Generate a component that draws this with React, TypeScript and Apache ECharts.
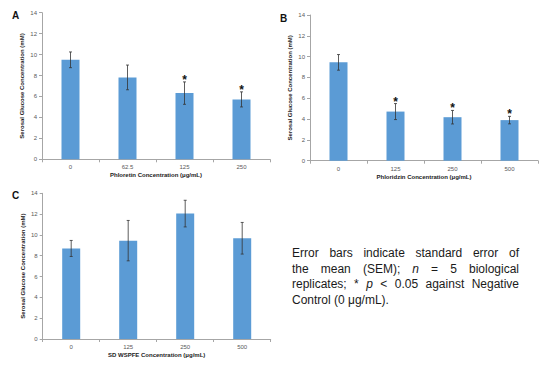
import React, { useEffect, useRef } from "react";
import * as echarts from "echarts";

const catsA = ["0", "62.5", "125", "250"];
const meanA = [9.5, 7.82, 6.32, 5.72];
const semA = [0.75, 1.18, 1.07, 0.72];
const sigA = [0, 0, 1, 1];

const catsB = ["0", "125", "250", "500"];
const meanB = [9.45, 4.72, 4.18, 3.9];
const semB = [0.75, 0.77, 0.65, 0.36];
const sigB = [0, 1, 1, 1];

const catsC = ["0", "125", "250", "500"];
const meanC = [8.7, 9.45, 12.05, 9.68];
const semC = [0.77, 1.94, 1.28, 1.52];
const sigC = [0, 0, 0, 0];

const yTicks = [0, 2, 4, 6, 8, 10, 12, 14];

const xTitles = [
  "Phloretin Concentration (μg/mL)",
  "Phloridzin Concentration (μg/mL)",
  "SD WSPFE Concentration (μg/mL)",
];
const yTitle = "Serosal Glucose Concentration (mM)";
const panelLetters = ["A", "B", "C"];

const noteLines: string[][] = [
  ["Error", "bars", "indicate", "standard", "error", "of"],
  ["the", "mean", "(SEM);", "_n", "=", "5", "biological"],
  ["replicates;", "*", "_p", "<", "0.05", "against", "Negative"],
  ["Control", "(0", "μg/mL)."],
];

const BAR = "#5b9bd5";
const AXIS = "#a6a6a6";
const LABEL = "#595959";

export default function App() {
  const ref = useRef<HTMLDivElement>(null);
  useEffect(() => {
    if (!ref.current) return;
    const chart = echarts.init(ref.current, null, { renderer: "svg" });

    const grids = [
      { left: 42, top: 12.7, width: 228, height: 146.6 },
      { left: 310, top: 15, width: 228, height: 145.7 },
      { left: 42.7, top: 193.3, width: 228, height: 145.7 },
    ];
    const sets = [
      { cats: catsA, mean: meanA, sem: semA, sig: sigA },
      { cats: catsB, mean: meanB, sem: semB, sig: sigB },
      { cats: catsC, mean: meanC, sem: semC, sig: sigC },
    ];

    const xAxis = sets.map((s, k) => ({
      type: "category",
      gridIndex: k,
      data: s.cats,
      name: xTitles[k],
      nameLocation: "middle",
      nameGap: 13,
      nameTextStyle: { fontSize: 6, fontWeight: "bold", color: "#222", fontFamily: "Liberation Sans" },
      axisLine: { lineStyle: { color: AXIS, width: 1 } },
      axisTick: { show: true, length: 3, lineStyle: { color: AXIS } },
      axisLabel: { fontSize: 6, color: LABEL, margin: 5, fontFamily: "Liberation Sans" },
    }));
    const yAxis = sets.map((s, k) => ({
      type: "value",
      gridIndex: k,
      min: 0,
      max: yTicks[yTicks.length - 1],
      interval: 2,
      name: yTitle,
      nameLocation: "middle",
      nameGap: 17,
      nameTextStyle: { fontSize: 6, fontWeight: "bold", color: "#222", fontFamily: "Liberation Sans" },
      axisLine: { show: true, lineStyle: { color: AXIS, width: 1 } },
      axisTick: { show: true, length: 3, lineStyle: { color: AXIS } },
      splitLine: { show: false },
      axisLabel: { fontSize: 6, color: LABEL, margin: 5, fontFamily: "Liberation Sans" },
    }));

    const series: any[] = [];
    sets.forEach((s, k) => {
      series.push({
        type: "bar",
        xAxisIndex: k,
        yAxisIndex: k,
        data: s.mean,
        barWidth: 18,
        itemStyle: { color: BAR },
      });
      series.push({
        type: "custom",
        xAxisIndex: k,
        yAxisIndex: k,
        data: s.cats.map((_, i) => [i, s.mean[i], s.sem[i], s.sig[i]]),
        encode: { x: 0, y: 1 },
        renderItem: (params: any, api: any) => {
          const i = api.value(0);
          const m = api.value(1);
          const e = api.value(2);
          const top = api.coord([i, m + e]);
          const bot = api.coord([i, m - e]);
          const cap = 1.5;
          const st = { stroke: "#333", lineWidth: 0.8 };
          const children: any[] = [
            { type: "line", shape: { x1: top[0], y1: top[1], x2: bot[0], y2: bot[1] }, style: st },
            { type: "line", shape: { x1: top[0] - cap, y1: top[1], x2: top[0] + cap, y2: top[1] }, style: st },
            { type: "line", shape: { x1: bot[0] - cap, y1: bot[1], x2: bot[0] + cap, y2: bot[1] }, style: st },
          ];
          if (api.value(3)) {
            children.push({
              type: "text",
              x: top[0],
              y: top[1] + 4,
              style: {
                text: "*",
                fontSize: 12,
                fontWeight: "bold",
                fontFamily: "Liberation Sans",
                align: "center",
                verticalAlign: "bottom",
                fill: "#111",
              },
            });
          }
          return { type: "group", children };
        },
        z: 5,
      });
    });

    // panel letters
    const graphic: any[] = [
      { type: "text", x: 12, y: 10, style: { text: panelLetters[0], fontSize: 10, fontWeight: "bold", fontFamily: "Liberation Sans", fill: "#111" } },
      { type: "text", x: 280, y: 13, style: { text: panelLetters[1], fontSize: 10, fontWeight: "bold", fontFamily: "Liberation Sans", fill: "#111" } },
      { type: "text", x: 12, y: 190, style: { text: panelLetters[2], fontSize: 10, fontWeight: "bold", fontFamily: "Liberation Sans", fill: "#111" } },
    ];

    // justified note text
    const canvas = document.createElement("canvas");
    const ctx = canvas.getContext("2d")!;
    const fs = 12;
    const measure = (w: string, italic: boolean) => {
      ctx.font = `${italic ? "italic " : ""}${fs}px 'Liberation Sans'`;
      return ctx.measureText(w).width;
    };
    const x0 = 292;
    const x1 = 519;
    const lineYs = [253.3, 268.5, 284.3, 300];
    noteLines.forEach((words, li) => {
      const parts = words.map((w) => {
        const it = w.startsWith("_");
        const t = it ? w.slice(1) : w;
        return { t, it, w: measure(t, it) };
      });
      const total = parts.reduce((a, p) => a + p.w, 0);
      const last = li === noteLines.length - 1;
      const gap = last ? measure(" ", false) : (x1 - x0 - total) / (parts.length - 1);
      let x = x0;
      parts.forEach((p) => {
        graphic.push({
          type: "text",
          x,
          y: lineYs[li],
          style: {
            text: p.t,
            fontSize: fs,
            fontStyle: p.it ? "italic" : "normal",
            fontFamily: "Liberation Sans",
            fill: "#1a1a1a",
            verticalAlign: "middle",
          },
        });
        x += p.w + gap;
      });
    });

    chart.setOption({
      animation: false,
      backgroundColor: "#fff",
      grid: grids,
      xAxis,
      yAxis,
      series,
      graphic,
    });
    return () => chart.dispose();
  }, []);
  return (
    <div
      ref={ref}
      style={{ position: "absolute", left: 0, top: 0, width: 539, height: 374 }}
    />
  );
}
